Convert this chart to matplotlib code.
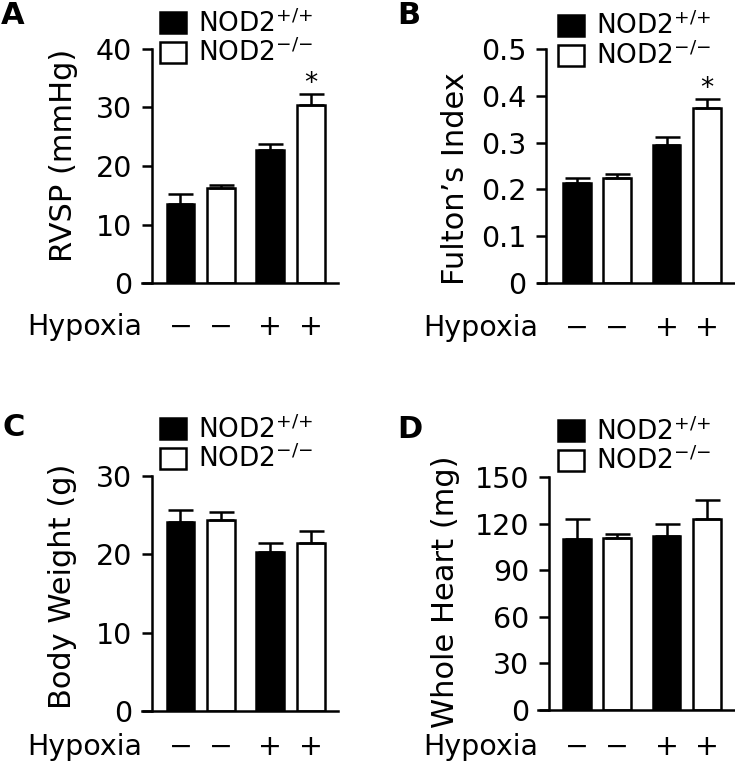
import matplotlib
matplotlib.use("Agg")
import matplotlib.pyplot as plt

plt.rcParams["font.family"] = ["DejaVu Sans"]
plt.rcParams["mathtext.fontset"] = "custom"
plt.rcParams["mathtext.rm"] = "DejaVu Sans"
plt.rcParams["mathtext.default"] = "regular"

# Data (mean, upper SEM), [normoxia, hypoxia]
GENOTYPES = [r"NOD2$^{{+}/{+}}$", r"NOD2$^{{-}/{-}}$"]
HYPOXIA_TICKS = ["\u2212", "\u2212", "+", "+"]

rvsp_wt = [13.5, 22.7]
rvsp_wt_err = [1.7, 1.1]
rvsp_ko = [16.2, 30.5]
rvsp_ko_err = [0.5, 1.8]

fulton_wt = [0.213, 0.295]
fulton_wt_err = [0.011, 0.018]
fulton_ko = [0.224, 0.374]
fulton_ko_err = [0.009, 0.019]

bw_wt = [24.1, 20.3]
bw_wt_err = [1.6, 1.2]
bw_ko = [24.4, 21.5]
bw_ko_err = [1.0, 1.5]

heart_wt = [110.4, 112.1]
heart_wt_err = [12.8, 7.5]
heart_ko = [110.8, 123.2]
heart_ko_err = [2.8, 11.8]

# bar positions: pairs grouped by hypoxia condition
WT_POS = [0.0, 2.22]
KO_POS = [1.0, 3.22]
BAR_W = 0.69
LW = 1.8
TICK_FS = 20.5
LABEL_FS = 22
LEG_FS = 19

W, H = 735, 771
fig = plt.figure(figsize=(W / 100, H / 100), dpi=100)


def px_axes(left, top, right, bottom):
    return fig.add_axes([left / W, 1 - bottom / H, (right - left) / W, (bottom - top) / H])


def draw_panel(ax, wt, wt_err, ko, ko_err, ymax, yticks, ylabel, label_xy, xlim, spine_x,
               legend_xy, hyp_pad, hyp_y, star=False):
    b1 = ax.bar(WT_POS, wt, BAR_W, color="black", edgecolor="black", linewidth=LW, label=GENOTYPES[0])
    b2 = ax.bar(KO_POS, ko, BAR_W, color="white", edgecolor="black", linewidth=LW, label=GENOTYPES[1])
    ax.errorbar(WT_POS, wt, yerr=[[0, 0], wt_err], fmt="none", ecolor="black",
                elinewidth=LW, capsize=9, capthick=LW)
    ax.errorbar(KO_POS, ko, yerr=[[0, 0], ko_err], fmt="none", ecolor="black",
                elinewidth=LW, capsize=9, capthick=LW)
    if star:
        ax.annotate("*", (KO_POS[1], ko[1] + ko_err[1]), xytext=(0, 7), textcoords="offset points",
                    ha="center", va="center", fontsize=19)

    ax.set_xlim(*xlim)
    ax.set_ylim(0, ymax)
    ax.spines["top"].set_visible(False)
    ax.spines["right"].set_visible(False)
    ax.spines["left"].set_position(("axes", spine_x))
    for s in ("left", "bottom"):
        ax.spines[s].set_linewidth(LW)
    ax.set_yticks(yticks)
    ax.set_yticklabels([f"{t:g}" for t in yticks])
    ax.tick_params(axis="y", length=7.2, width=LW, labelsize=TICK_FS, pad=7)
    ax.set_xticks(WT_POS + KO_POS)
    ax.set_xticklabels(HYPOXIA_TICKS[0::2] + HYPOXIA_TICKS[1::2])
    ax.tick_params(axis="x", length=0, labelsize=TICK_FS, pad=hyp_pad)
    ax.text(0.0, hyp_y, "Hypoxia", transform=ax.transAxes, ha="right", va="baseline",
            fontsize=TICK_FS)
    ax.set_ylabel(ylabel, fontsize=LABEL_FS, va="center")
    ax.yaxis.set_label_coords(*label_xy)
    ax.legend(handles=[b1, b2], loc="upper left", bbox_to_anchor=(legend_xy[0] / W, 1 - legend_xy[1] / H),
              bbox_transform=fig.transFigure, frameon=False, fontsize=LEG_FS, borderpad=0,
              borderaxespad=0, handlelength=0.98, handleheight=0.85, handletextpad=0.45,
              labelspacing=0.05)


ax_a = px_axes(142, 49, 338, 283)
draw_panel(ax_a, rvsp_wt, rvsp_wt_err, rvsp_ko, rvsp_ko_err, 40, [0, 10, 20, 30, 40],
           "RVSP (mmHg)", (-0.403, 0.547), (-0.95, 3.89), 0.051, (160, 9),
           21.5, -0.222, star=True)

ax_b = px_axes(538, 49, 735, 283)
draw_panel(ax_b, fulton_wt, fulton_wt_err, fulton_ko, fulton_ko_err, 0.5,
           [0, 0.1, 0.2, 0.3, 0.4, 0.5], "Fulton\u2019s Index", (-0.421, 0.444),
           (-0.97, 3.92), 0.041, (558, 12), 22, -0.226, star=True)

ax_c = px_axes(142, 476, 338, 711)
draw_panel(ax_c, bw_wt, bw_wt_err, bw_ko, bw_ko_err, 30, [0, 10, 20, 30],
           "Body Weight (g)", (-0.408, 0.532), (-0.95, 3.89), 0.051, (160, 415),
           16, -0.187)

ax_d = px_axes(538, 477, 735, 710)
draw_panel(ax_d, heart_wt, heart_wt_err, heart_ko, heart_ko_err, 150,
           [0, 30, 60, 90, 120, 150], "Whole Heart (mg)", (-0.472, 0.506),
           (-0.97, 3.92), 0.056, (558, 417), 16.5, -0.193)

for letter, (x, y) in zip("ABCD", [(13, 15), (409, 16), (14, 427), (410, 430)]):
    fig.text(x / W, 1 - y / H, letter, ha="center", va="center", fontsize=22, fontweight="bold")

fig.savefig("out.png", dpi=100)
